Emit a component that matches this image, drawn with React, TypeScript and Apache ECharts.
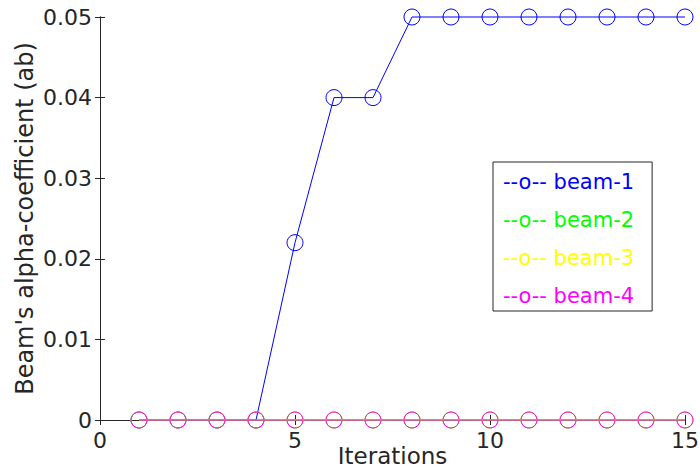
import React, { useEffect, useRef } from "react";
import * as echarts from "echarts";

const iterations = [1, 2, 3, 4, 5, 6, 7, 8, 9, 10, 11, 12, 13, 14, 15];
const beam1 = [0, 0, 0, 0, 0.022, 0.04, 0.04, 0.05, 0.05, 0.05, 0.05, 0.05, 0.05, 0.05, 0.05];
const beam2 = [0, 0, 0, 0, 0, 0, 0, 0, 0, 0, 0, 0, 0, 0, 0];
const beam3 = [0, 0, 0, 0, 0, 0, 0, 0, 0, 0, 0, 0, 0, 0, 0];
const beam4 = [0, 0, 0, 0, 0, 0, 0, 0, 0, 0, 0, 0, 0, 0, 0];
const seriesNames = ["beam-1", "beam-2", "beam-3", "beam-4"];
const seriesColors = ["#0000ff", "#00ff00", "#ffff00", "#ff00ff"];

const FONT = "DejaVu Sans";
const AXIS = "#262626";

export default function App() {
  const ref = useRef<HTMLDivElement>(null);
  useEffect(() => {
    if (!ref.current) return;
    const chart = echarts.init(ref.current, null, { renderer: "svg" });
    const all = [beam1, beam2, beam3, beam4];
    const axisCommon = {
      axisLine: { show: true, lineStyle: { color: AXIS, width: 1 } },
      axisTick: { show: true, inside: true, length: 5, lineStyle: { color: AXIS } },
      splitLine: { show: false },
    };
    chart.setOption({
      animation: false,
      backgroundColor: "#ffffff",
      grid: { left: 100, right: 15, top: 17, bottom: 52, containLabel: false, outerBoundsMode: "none" },
      legend: {
        orient: "vertical",
        left: 493,
        top: 162,
        icon: "none",
        itemWidth: 0,
        itemHeight: 21,
        itemGap: 17,
        padding: [9, 18, 5, 5],
        backgroundColor: "#ffffff",
        borderColor: AXIS,
        borderWidth: 1,
        borderRadius: 0,
        formatter: "--o-- {name}",
        textStyle: { fontFamily: FONT, fontSize: 21 },
        data: seriesNames.map((n, i) => ({ name: n, textStyle: { color: seriesColors[i] } })),
      },
      xAxis: [
        {
          type: "value",
          min: 0,
          max: 15,
          interval: 5,
          position: "bottom",
          name: "Iterations",
          nameLocation: "middle",
          nameGap: 24,
          nameMoveOverlap: false,
          nameTextStyle: { fontFamily: FONT, fontSize: 23, color: AXIS, verticalAlign: "top" },
          axisLabel: { fontFamily: FONT, fontSize: 22, color: AXIS, margin: 9 },
          ...axisCommon,
        },
        {
          type: "value",
          min: 0,
          max: 15,
          interval: 5,
          position: "top",
          axisLabel: { show: false },
          ...axisCommon,
        },
      ],
      yAxis: [
        {
          type: "value",
          min: 0,
          max: 0.05,
          interval: 0.01,
          position: "left",
          name: "Beam's alpha-coefficient (ab)",
          nameLocation: "middle",
          nameGap: 63,
          nameMoveOverlap: false,
          nameTextStyle: { fontFamily: FONT, fontSize: 24, color: AXIS },
          axisLabel: { fontFamily: FONT, fontSize: 22, color: AXIS, margin: 8 },
          ...axisCommon,
        },
        {
          type: "value",
          min: 0,
          max: 0.05,
          interval: 0.01,
          position: "right",
          axisLabel: { show: false },
          ...axisCommon,
        },
      ],
      series: seriesNames.map((n, i) => ({
        name: n,
        type: "line",
        xAxisIndex: 0,
        yAxisIndex: 0,
        clip: false,
        data: iterations.map((x, j) => [x, all[i][j]]),
        symbol: "circle",
        symbolSize: 16,
        showAllSymbol: true,
        itemStyle: { color: "rgba(0,0,0,0)", borderColor: seriesColors[i], borderWidth: 1 },
        lineStyle: { color: seriesColors[i], width: 1 },
        emphasis: { disabled: true },
      })),
    });
    return () => chart.dispose();
  }, []);
  return <div ref={ref} style={{ width: 700, height: 472, position: "absolute", left: 0, top: 0 }} />;
}
